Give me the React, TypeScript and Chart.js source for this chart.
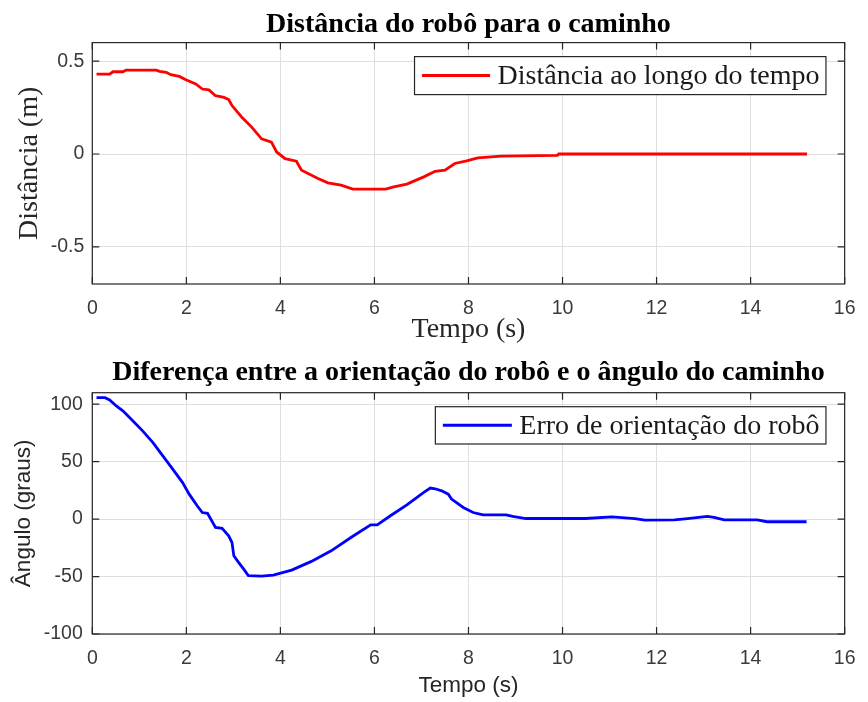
import React, { useEffect, useRef } from "react";
import { Chart, registerables } from "chart.js";

Chart.register(...registerables);

// ---------- data ----------
const X_TICKS = [0, 2, 4, 6, 8, 10, 12, 14, 16];
const DIST_TICKS = [-0.5, 0, 0.5];
const ANG_TICKS = [-100, -50, 0, 50, 100];

const DIST_LABEL = "Distância ao longo do tempo";
const ANG_LABEL = "Erro de orientação do robô";

const DIST_T = [0.09, 0.37, 0.44, 0.65, 0.72, 1.36, 1.43, 1.57, 1.67, 1.85, 1.99, 2.2, 2.34, 2.48, 2.62, 2.8, 2.9, 2.97, 3.18, 3.39, 3.6, 3.81, 3.92, 4.1, 4.34, 4.45, 4.8, 5.01, 5.29, 5.54, 6.24, 6.41, 6.69, 7.05, 7.29, 7.5, 7.71, 7.96, 8.2, 8.7, 9.89, 9.92, 15.2];
const DIST_V = [0.43, 0.43, 0.443, 0.443, 0.452, 0.452, 0.445, 0.44, 0.427, 0.418, 0.4, 0.377, 0.35, 0.345, 0.314, 0.305, 0.293, 0.261, 0.198, 0.145, 0.082, 0.064, 0.011, -0.025, -0.039, -0.087, -0.132, -0.155, -0.168, -0.189, -0.189, -0.177, -0.162, -0.123, -0.093, -0.087, -0.051, -0.037, -0.021, -0.011, -0.007, 0.0, 0.0];

const ANG_T = [0.09, 0.27, 0.37, 0.51, 0.65, 0.86, 1.07, 1.29, 1.5, 1.71, 1.92, 2.06, 2.23, 2.34, 2.45, 2.62, 2.76, 2.9, 2.97, 3.01, 3.11, 3.22, 3.32, 3.6, 3.85, 4.24, 4.66, 5.08, 5.5, 5.92, 6.06, 6.34, 6.69, 7.05, 7.19, 7.29, 7.43, 7.57, 7.64, 7.89, 8.1, 8.31, 8.8, 8.94, 9.22, 10.49, 11.05, 11.54, 11.75, 12.38, 12.66, 13.08, 13.22, 13.44, 14.14, 14.35, 15.19];
const ANG_V = [105.7, 105.7, 103.7, 98.5, 94.2, 85.5, 76.8, 66.6, 55, 43.5, 31.8, 21.7, 11.6, 5.7, 5, -7.3, -8, -14.5, -20.3, -31.9, -37.7, -43.5, -49.3, -49.6, -48.8, -44.4, -36.8, -27.6, -16, -5, -5, 2.9, 12.4, 23.2, 27, 26.4, 24.6, 21.7, 17.4, 10.1, 5.7, 3.7, 3.7, 2.3, 0.5, 0.5, 2, 0.5, -0.9, -0.6, 0.5, 2.3, 1.5, -0.6, -0.6, -2.3, -2.3];

// ---------- styles ----------
const SERIF = '"Liberation Serif", "Times New Roman", serif';
const SANS = '"Liberation Sans", Arial, sans-serif';
const AXIS_COLOR = "#262626";
const GRID_COLOR = "#dfdfdf";
const TICK_COLOR = "#3a3a3a";

const framePlugin = {
  id: "matlabFrame",
  afterDatasetsDraw(chart: any, _args: any, opts: any) {
    const { ctx, chartArea: a, scales } = chart;
    ctx.save();
    ctx.strokeStyle = AXIS_COLOR;
    ctx.lineWidth = 1.2;
    ctx.strokeRect(a.left, a.top, a.right - a.left, a.bottom - a.top);
    const L = 7;
    ctx.beginPath();
    for (const t of scales.x.ticks) {
      const px = scales.x.getPixelForValue(t.value);
      ctx.moveTo(px, a.bottom);
      ctx.lineTo(px, a.bottom - L);
      ctx.moveTo(px, a.top);
      ctx.lineTo(px, a.top + L);
    }
    for (const t of scales.y.ticks) {
      const py = scales.y.getPixelForValue(t.value);
      ctx.moveTo(a.left, py);
      ctx.lineTo(a.left + L, py);
      ctx.moveTo(a.right, py);
      ctx.lineTo(a.right - L, py);
    }
    ctx.stroke();

    // legend box
    const ds = chart.data.datasets[0];
    ctx.font = `28px ${SERIF}`;
    const tw = ctx.measureText(ds.label).width;
    const padL = 7.5, lineLen = opts.lineLen, gap = 7.5, padR = 6.5;
    const w = padL + lineLen + gap + tw + padR;
    const right = a.right - opts.rightInset;
    const top = a.top + opts.topInset;
    const h = opts.height;
    const left = right - w;
    ctx.fillStyle = "#ffffff";
    ctx.fillRect(left, top, w, h);
    ctx.lineWidth = 1.2;
    ctx.strokeStyle = AXIS_COLOR;
    ctx.strokeRect(left, top, w, h);
    ctx.strokeStyle = ds.borderColor;
    ctx.lineWidth = 3;
    ctx.beginPath();
    ctx.moveTo(left + padL, top + h / 2);
    ctx.lineTo(left + padL + lineLen, top + h / 2);
    ctx.stroke();
    ctx.fillStyle = "#1a1a1a";
    ctx.textBaseline = "middle";
    ctx.textAlign = "left";
    ctx.fillText(ds.label, left + padL + lineLen + gap, top + h / 2 + 1);
    ctx.restore();
  },
};

type Spec = {
  title: string;
  titlePad: { top: number; bottom: number };
  label: string;
  color: string;
  t: number[];
  v: number[];
  yMin: number;
  yMax: number;
  yTicks: number[];
  xTitle: string;
  xTitleFont: any;
  xTitlePadBottom: number;
  xScaleHeight: number;
  yTitle: string;
  yTitleFont: any;
  yTitlePadTop: number;
  yTickPad: number;
  legend: { rightInset: number; topInset: number; height: number; lineLen: number };
};

function makeConfig(s: Spec): any {
  return {
    type: "line",
    data: {
      datasets: [
        {
          label: s.label,
          data: s.t.map((t, i) => ({ x: t, y: s.v[i] })),
          borderColor: s.color,
          borderWidth: 2.8,
          pointRadius: 0,
          tension: 0,
          fill: false,
        },
      ],
    },
    options: {
      responsive: false,
      animation: false,
      devicePixelRatio: 1,
      layout: { padding: { left: 0, right: 16.3, top: 0, bottom: 0 } },
      plugins: {
        legend: { display: false },
        tooltip: { enabled: false },
        title: {
          display: true,
          fullSize: false,
          text: s.title,
          color: "#000000",
          font: { family: SERIF, size: 28, weight: "bold", lineHeight: 1.2 },
          padding: s.titlePad,
        },
        matlabFrame: s.legend,
      },
      scales: {
        x: {
          type: "linear",
          min: 0,
          max: 16,
          afterBuildTicks: (sc: any) => {
            sc.ticks = X_TICKS.map((v) => ({ value: v }));
          },
          afterFit: (sc: any) => {
            sc.height = s.xScaleHeight;
          },
          grid: { color: GRID_COLOR, lineWidth: 1, drawTicks: false },
          border: { display: false },
          ticks: {
            color: TICK_COLOR,
            padding: 12.5,
            maxRotation: 0,
            autoSkip: false,
            font: { family: SANS, size: 19.5, lineHeight: 1.2 },
            callback: (v: any) => String(v),
          },
          title: {
            display: true,
            text: s.xTitle,
            color: AXIS_COLOR,
            font: s.xTitleFont,
            padding: { top: 0, bottom: s.xTitlePadBottom },
          },
        },
        y: {
          type: "linear",
          min: s.yMin,
          max: s.yMax,
          afterBuildTicks: (sc: any) => {
            sc.ticks = s.yTicks.map((v) => ({ value: v }));
          },
          afterFit: (sc: any) => {
            sc.width = 92.3;
          },
          grid: { color: GRID_COLOR, lineWidth: 1, drawTicks: false },
          border: { display: false },
          ticks: {
            color: TICK_COLOR,
            padding: s.yTickPad,
            autoSkip: false,
            font: { family: SANS, size: 19.5, lineHeight: 1.2 },
            callback: (v: any) => String(v),
          },
          title: {
            display: true,
            text: s.yTitle,
            color: AXIS_COLOR,
            font: s.yTitleFont,
            padding: { top: s.yTitlePadTop, bottom: 0 },
          },
        },
      },
    },
    plugins: [framePlugin],
  };
}

const TOP_SPEC: Spec = {
  title: "Distância do robô para o caminho",
  titlePad: { top: 7.5, bottom: 1.5 },
  label: DIST_LABEL,
  color: "#ff0000",
  t: DIST_T,
  v: DIST_V,
  yMin: -0.7,
  yMax: 0.6,
  yTicks: DIST_TICKS,
  xTitle: "Tempo (s)",
  xTitleFont: { family: SERIF, size: 28, lineHeight: 1 },
  xTitlePadBottom: 7.5,
  xScaleHeight: 67,
  yTitle: "Distância (m)",
  yTitleFont: { family: SERIF, size: 28, lineHeight: 1 },
  yTitlePadTop: 16,
  yTickPad: 8,
  legend: { rightInset: 18.7, topInset: 14, height: 38, lineLen: 68 },
};

const BOTTOM_SPEC: Spec = {
  title: "Diferença entre a orientação do robô e o ângulo do caminho",
  titlePad: { top: 5, bottom: 3.1 },
  label: ANG_LABEL,
  color: "#0000ff",
  t: ANG_T,
  v: ANG_V,
  yMin: -100,
  yMax: 110,
  yTicks: ANG_TICKS,
  xTitle: "Tempo (s)",
  xTitleFont: { family: SANS, size: 22.5, lineHeight: 1 },
  xTitlePadBottom: 5.2,
  xScaleHeight: 68,
  yTitle: "Ângulo (graus)",
  yTitleFont: { family: SANS, size: 22.5, lineHeight: 1 },
  yTitlePadTop: 13,
  yTickPad: 9.5,
  legend: { rightInset: 18.7, topInset: 14, height: 37.3, lineLen: 69 },
};

function ChartCanvas({ spec, top }: { spec: Spec; top: number }) {
  const ref = useRef<HTMLCanvasElement | null>(null);
  useEffect(() => {
    if (!ref.current) return;
    const chart = new Chart(ref.current, makeConfig(spec));
    return () => chart.destroy();
  }, [spec]);
  return (
    <canvas
      ref={ref}
      width={868}
      height={351}
      style={{ position: "absolute", left: 0, top, width: 868, height: 351, display: "block" }}
    />
  );
}

export default function App() {
  return (
    <div
      style={{
        position: "absolute",
        left: 0,
        top: 0,
        width: 868,
        height: 702,
        background: "#ffffff",
        overflow: "hidden",
      }}
    >
      <ChartCanvas spec={TOP_SPEC} top={0} />
      <ChartCanvas spec={BOTTOM_SPEC} top={351} />
    </div>
  );
}
